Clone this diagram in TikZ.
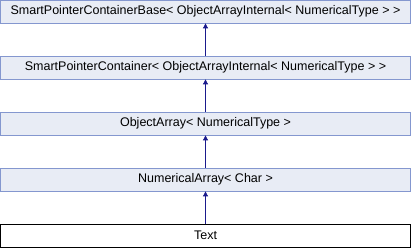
\documentclass[tikz,border=0pt]{standalone}
\usepackage{fontspec}
\setmainfont{Liberation Sans}
\usetikzlibrary{arrows.meta}

\definecolor{boxfill}{HTML}{E8ECF5}
\definecolor{boxline}{HTML}{8497CF}
\definecolor{inherit}{HTML}{1A1A8C}

\tikzset{
  klass/.style={draw=boxline,fill=boxfill,minimum width=410pt,minimum height=23pt,
    inner sep=0pt,font=\fontsize{12.5}{14}\selectfont,line width=0.8pt},
  current/.style={klass,draw=black,fill=white,line width=1pt},
  isa/.style={draw=inherit,line width=0.8pt,-{Triangle[length=5pt,width=5pt]}}
}

\begin{document}
\begin{tikzpicture}[x=1pt,y=1pt]

\useasboundingbox (0,0) rectangle (412,-248);

\node [klass] (base) at (205.5,-11.5) {SmartPointerContainerBase< ObjectArrayInternal< NumericalType > >};
\node [klass] (cont) at (205.5,-67.5) {SmartPointerContainer< ObjectArrayInternal< NumericalType > >};
\node [klass] (oarr) at (205.5,-123.5) {ObjectArray< NumericalType >};
\node [klass] (narr) at (205.5,-179.5) {NumericalArray< Char >};
\node [current] (text) at (205.5,-235.5) {Text};


\draw[isa] (cont) -- (base);
\draw[isa] (oarr) -- (cont);
\draw[isa] (narr) -- (oarr);
\draw[isa] (text) -- (narr);

\end{tikzpicture}
\end{document}
